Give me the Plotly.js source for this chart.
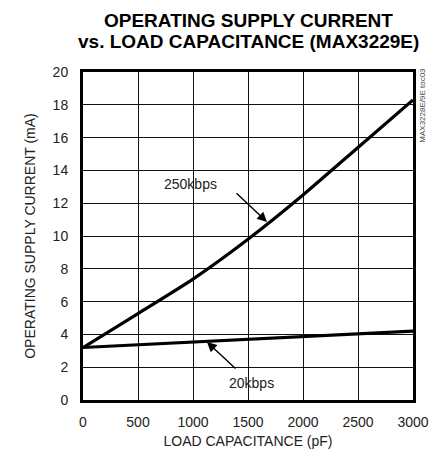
<!DOCTYPE html>
<html><head><meta charset="utf-8">
<script src="https://cdn.plot.ly/plotly-3.0.1.min.js"></script>
<style>body{margin:0;background:#fff}</style>
</head><body>
<div id="chart" style="width:439px;height:461px"></div>
<script>
const capacitance = [0, 500, 1000, 1500, 2000, 2500, 3000];
const current250k = [3.2, 5.27, 7.37, 9.8, 12.5, 15.4, 18.3];
const current20k = [3.2, 3.37, 3.55, 3.72, 3.88, 4.04, 4.2];
const xTicks = [0, 500, 1000, 1500, 2000, 2500, 3000];
const yTicks = [0, 2, 4, 6, 8, 10, 12, 14, 16, 18, 20];

const FONT = '"Liberation Sans Narrow", "Liberation Sans", Arial, sans-serif';

const traces = [
  {x: capacitance, y: current250k, mode: 'lines', line: {color: '#000', width: 3.2, shape: 'spline', smoothing: 0.6}, hoverinfo: 'skip'},
  {x: capacitance, y: current20k, mode: 'lines', line: {color: '#000', width: 3.2}, hoverinfo: 'skip'}
];

const layout = {
  width: 439, height: 461,
  margin: {l: 83, r: 26, t: 72, b: 61},
  paper_bgcolor: '#fff', plot_bgcolor: '#fff',
  showlegend: false,
  font: {family: FONT, color: '#222', size: 14},
  xaxis: {
    range: [0, 3000], tickvals: xTicks, ticktext: xTicks.map(String),
    showgrid: true, gridcolor: '#111', gridwidth: 1,
    showline: true, linecolor: '#000', linewidth: 3, mirror: true,
    ticks: '', ticklabelstandoff: 7, zeroline: false, fixedrange: true,
    tickfont: {family: FONT, size: 14, color: '#222'},
    title: {text: 'LOAD CAPACITANCE (pF)', font: {family: FONT, size: 14, color: '#222'}, standoff: 8}
  },
  yaxis: {
    range: [0, 20], tickvals: yTicks, ticktext: yTicks.map(String),
    showgrid: true, gridcolor: '#111', gridwidth: 1,
    showline: true, linecolor: '#000', linewidth: 3, mirror: true,
    ticks: '', ticklabelstandoff: 9, zeroline: false, fixedrange: true,
    tickfont: {family: FONT, size: 14, color: '#222'},
    title: {text: 'OPERATING SUPPLY CURRENT (mA)', font: {family: FONT, size: 14, color: '#222'}, standoff: 14}
  },
  annotations: [
    {x: 0.5, y: 1 + (72 - 21) / 328, xref: 'paper', yref: 'paper', xanchor: 'center', yanchor: 'middle',
     text: '<b>OPERATING SUPPLY CURRENT</b>', showarrow: false,
     font: {family: FONT, size: 19, color: '#000'}},
    {x: 0.5, y: 1 + (72 - 42) / 328, xref: 'paper', yref: 'paper', xanchor: 'center', yanchor: 'middle',
     text: '<b>vs. LOAD CAPACITANCE (MAX3229E)</b>', showarrow: false,
     font: {family: FONT, size: 19, color: '#000'}},
    {x: 1673, y: 10.85, xref: 'x', yref: 'y', ax: 1382, ay: 12.7, axref: 'x', ayref: 'y',
     text: '', showarrow: true, arrowhead: 2, arrowsize: 1.4, arrowwidth: 1.4, arrowcolor: '#000'},
    {x: 973, y: 13.2, xref: 'x', yref: 'y', text: '250kbps', showarrow: false,
     font: {family: FONT, size: 14, color: '#222'}},
    {x: 1127, y: 3.54, xref: 'x', yref: 'y', ax: 1400, ay: 1.83, axref: 'x', ayref: 'y',
     text: '', showarrow: true, arrowhead: 2, arrowsize: 1.4, arrowwidth: 1.4, arrowcolor: '#000'},
    {x: 1536, y: 1.04, xref: 'x', yref: 'y', text: '20kbps', showarrow: false,
     font: {family: FONT, size: 14, color: '#222'}},
    {x: 1.03, y: 0.9, xref: 'paper', yref: 'paper', xanchor: 'center', yanchor: 'middle',
     text: 'MAX3228E/9E toc03', showarrow: false, textangle: -90,
     font: {family: FONT, size: 8, color: '#444'}}
  ]
};

Plotly.newPlot('chart', traces, layout, {displayModeBar: false, staticPlot: true});
</script>
</body></html>
